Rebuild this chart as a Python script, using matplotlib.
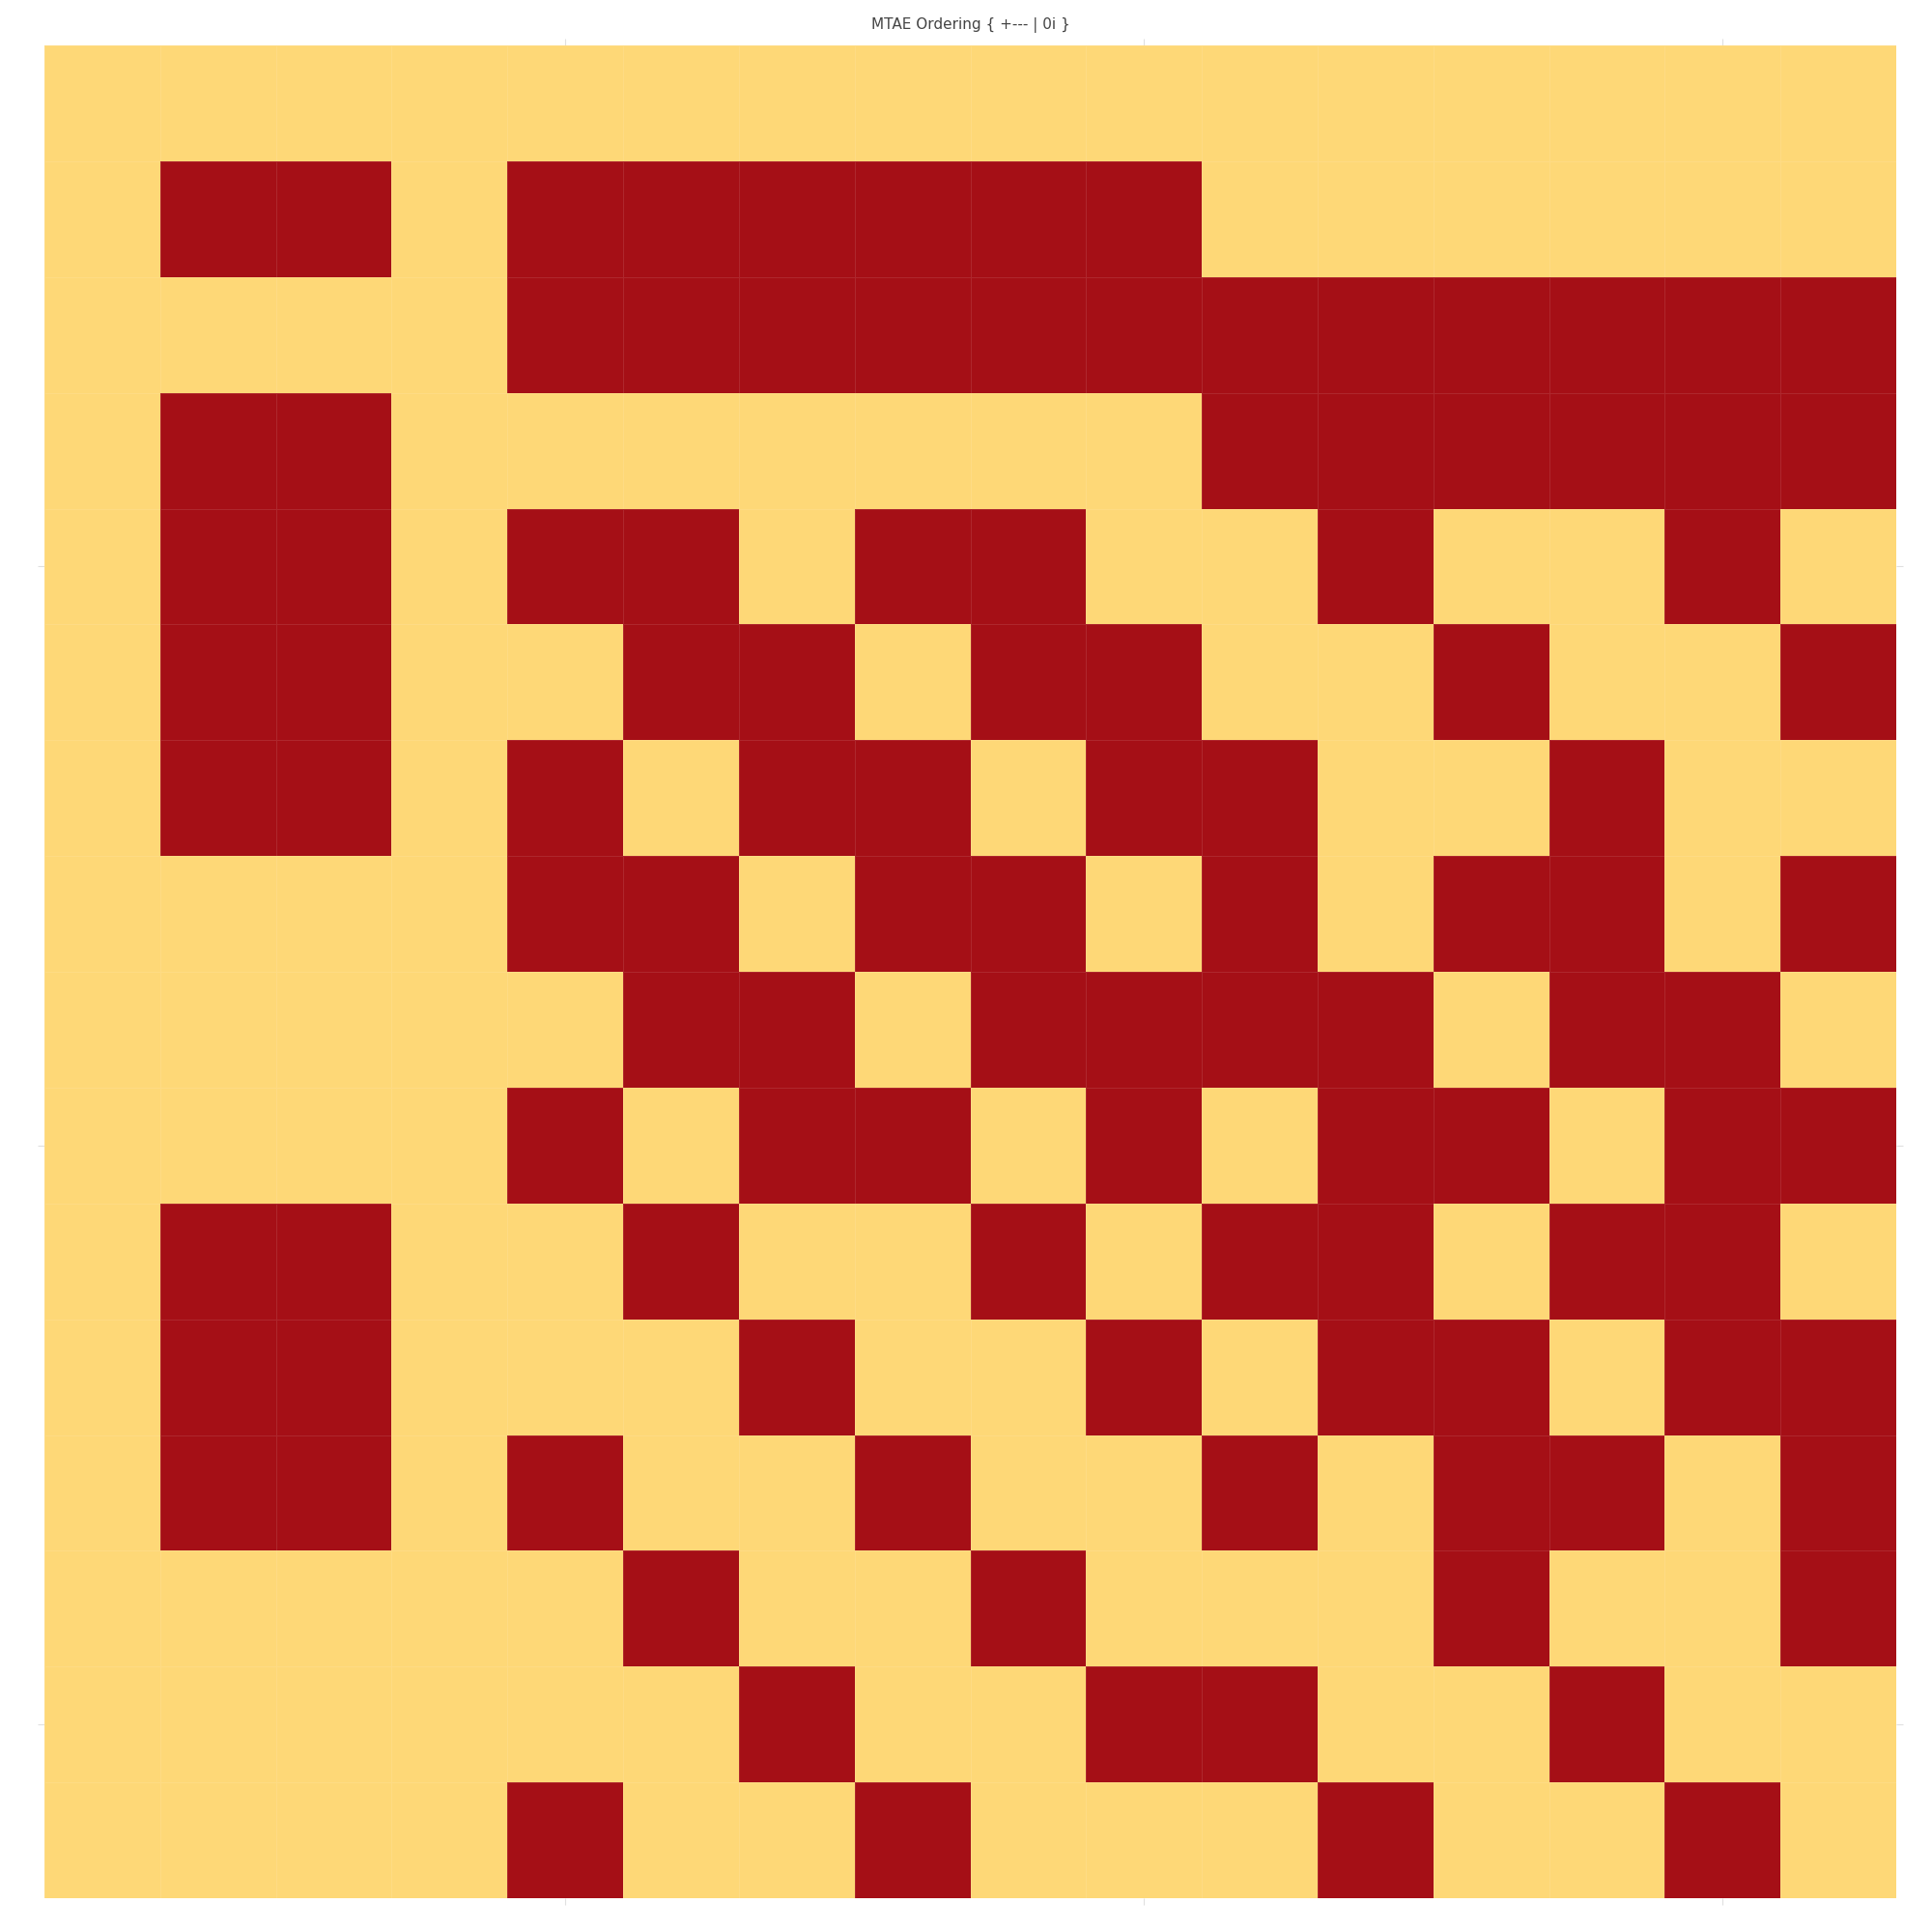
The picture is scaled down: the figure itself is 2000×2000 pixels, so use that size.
import numpy as np
import matplotlib
matplotlib.use('Agg')
import matplotlib.pyplot as plt
from matplotlib.colors import ListedColormap

# 16x16 ordering matrix, 1 = red cell, 0 = yellow cell (rows top to bottom)
rows = [
    "0000000000000000",
    "0110111111000000",
    "0000111111111111",
    "0110000000111111",
    "0110110110010010",
    "0110011011001001",
    "0110101101100100",
    "0000110110101101",
    "0000011011110110",
    "0000101101011011",
    "0110010010110110",
    "0110001001011011",
    "0110100100101101",
    "0000010010001001",
    "0000001001100100",
    "0000100100010010",
]
title = "MTAE Ordering { +--- | 0i }"
tick_pos = [5, 10, 15]

grid = np.array([[int(c) for c in r] for r in rows])
n = grid.shape[0]

cmap = ListedColormap(['#fed877', '#a50f16'])

fig = plt.figure(figsize=(20, 20), dpi=100)
ax = fig.add_axes([0.023, 0.0175, 0.9585, 0.959])

edges = np.arange(n + 1) + 0.5
ax.pcolormesh(edges, edges, grid, cmap=cmap, vmin=0, vmax=1,
              edgecolors=(1, 1, 1, 0.1), linewidth=0.6, zorder=2)
ax.set_xlim(0.5, n + 0.5)
ax.set_ylim(n + 0.5, 0.5)

ax.set_xticks(tick_pos)
ax.set_yticks(tick_pos)
ax.tick_params(which='both', direction='out', length=5, width=0.8,
               color='#e0e0e0', top=True, right=True,
               labelbottom=False, labelleft=False)
ax.grid(True, linestyle='--', color='#dddddd', zorder=0)
for s in ax.spines.values():
    s.set_visible(False)

ax.set_title(title, fontsize=11, color='#444444', pad=12)

fig.savefig('out.png', dpi=100)
